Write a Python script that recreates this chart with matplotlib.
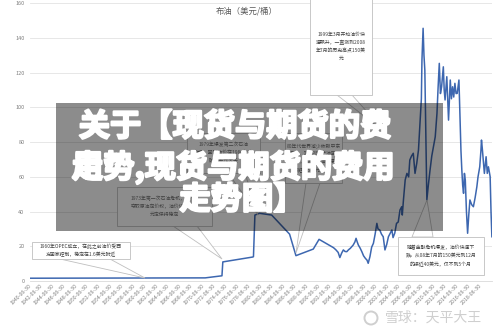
import matplotlib
matplotlib.use('Agg')
import matplotlib.pyplot as plt
import matplotlib.patheffects as pe
from matplotlib.patches import Rectangle, Polygon, Circle

plt.rcParams['font.family'] = ['Noto Sans CJK SC', 'DejaVu Sans']

# Brent price (USD/bbl), x in decimal years
years = [1940.5, 1970.8, 1973.7, 1973.85, 1979.0, 1979.15, 1979.4, 1980.2, 1982.3,
         1985.4, 1986.5, 1989.5, 1990.5,
         1993.0, 1993.4, 1993.8, 1994.1, 1994.4, 1994.7, 1995.0, 1995.3, 1995.6, 1995.9,
         1996.2, 1996.4, 1996.7, 1996.9, 1997.1, 1997.3, 1997.6, 1997.9, 1998.2, 1998.5,
         1998.8, 1999.0, 1999.3, 1999.6, 1999.9, 2000.2, 2000.5, 2000.7, 2001.0, 2001.3,
         2001.6, 2001.9, 2002.2, 2002.5, 2002.8, 2003.1, 2003.3, 2003.6, 2003.9, 2004.2,
         2004.5, 2004.8, 2004.9, 2005.1, 2005.4, 2005.7, 2006.0, 2006.2, 2006.5, 2006.8,
         2007.1, 2007.4, 2007.7, 2008.0, 2008.2, 2008.3, 2008.45, 2008.5, 2008.65, 2008.8,
         2008.95, 2009.05, 2009.15, 2009.4, 2009.7, 2010.0, 2010.3, 2010.6, 2010.9, 2011.1,
         2011.3, 2011.5, 2011.7, 2012.0, 2012.15, 2012.3, 2012.6, 2012.9, 2013.2, 2013.4,
         2013.6, 2013.8, 2014.0, 2014.2, 2014.4, 2014.55, 2014.7, 2014.9, 2015.05, 2015.2,
         2015.35, 2015.5, 2015.65, 2015.8, 2016.0, 2016.2, 2016.4, 2016.6, 2016.9, 2017.2,
         2017.5, 2017.8, 2018.0, 2018.3, 2018.5, 2018.6, 2018.75, 2018.9, 2019.1, 2019.4,
         2019.6, 2019.8, 2020.1, 2020.25, 2020.4]
price = [1.6, 1.8, 3.0, 11.0, 13.8, 14.0, 38.0, 39.0, 38.0,
         27.0, 14.6, 18.4, 24.0,
         19.2, 18.0, 16.5, 13.5, 16.0, 17.9, 17.0, 16.9, 18.0, 18.8,
         20.0, 20.7, 22.5, 24.6, 22.5, 20.7, 19.0, 16.9, 14.5, 13.1,
         12.0, 10.2, 14.0, 19.5, 21.7, 27.0, 33.2, 30.0, 29.4, 27.0,
         25.5, 17.9, 21.0, 25.5, 27.5, 29.4, 25.0, 27.6, 33.2, 34.0,
         40.9, 42.8, 38.0, 46.7, 58.2, 62.0, 60.0, 69.7, 72.0, 73.6,
         62.0, 67.8, 75.5, 92.7, 105.0, 127.3, 140.0, 145.6, 130.0, 121.5,
         90.0, 70.0, 46.7, 55.0, 63.9, 72.0, 77.4, 83.1, 96.6, 111.9,
         125.4, 108.0, 111.9, 123.4, 110.0, 104.3, 117.7, 92.7, 115.8, 105.0,
         111.9, 106.0, 113.9, 108.0, 108.1, 112.0, 115.8, 92.7, 75.0, 63.9,
         55.0, 50.5, 62.0, 58.2, 40.0, 27.5, 38.0, 46.7, 44.0, 42.8,
         48.0, 54.3, 60.0, 65.8, 75.0, 81.2, 76.0, 69.7, 62.0, 71.6,
         62.0, 65.8, 60.1, 40.0, 25.5]

tick_years = list(range(1940, 2019, 2))
tick_labels = [f'{y}-06-30' for y in tick_years]
y_ticks = [0, 20, 40, 60, 80, 100, 120, 140, 160]

chart_title = '布油（美元/桶）'
banner_lines = ['关于【现货与期货的费', '走势,现货与期货的费用', '走势图】']
callouts = [
    # (box x, y, w, h, wedge base x1, x2, base y, tip x, tip y, lines)
    (310, -2, 62, 97, 337, 352, 95, 386, 133,
     ['1999年3月开始油价快', '速飙升，一直涨到2008', '年7月的历史高点150美', '元']),
    (32, 242, 98, 17, 60, 110, 259, 145, 278,
     ['1960年OPEC成立，在此之前油价受西', '方国家控制，稳定在1.6美元附近']),
    (117, 187, 95, 39, 173, 197, 226, 222, 259,
     ['1973年第一次石油危机，OPEC', '夺取原油定价权，油价快速上涨', '元定保持稳定']),
    (187, 133, 73, 40, 228, 245, 173, 258, 215,
     ['1979年爆发第二次石油', '危机，国际油价在1980年突', '破40美元大关']),
    (285, 133, 57, 50, 306, 320, 183, 296, 253,
     ['80年代世界减少依赖中东', '石油，非OPEC产油国', '增产，1986年油价暴', '跌至15美元以下']),
    (398, 237, 86, 38, 412, 433, 237, 427, 200,
     ['随着金融危机爆发，油价快速下', '跌。从08年7月的150美元到12月', '的接近40美元，仅不到5个月']),
]

W, H = 500, 334
fig = plt.figure(figsize=(W / 100, H / 100), dpi=100)

ax = fig.add_axes([30 / W, 1 - 281 / H, 462 / W, 277.7 / H])
ax.plot(years, price, color='#3D67B0', lw=1.1, zorder=3)
ax.set_xlim(1940.49, 2020.42)
ax.set_ylim(0, 160)
ax.set_yticks(y_ticks)
ax.set_xticks([y + 0.5 for y in tick_years])
ax.set_xticklabels(tick_labels, rotation=45, ha='right', va='center',
                   rotation_mode='anchor', fontsize=3.8, color='#808080')
ax.tick_params(axis='x', length=0, pad=3)
ax.tick_params(axis='y', length=0, pad=4, labelsize=4, labelcolor='#808080')
ax.yaxis.grid(True, color='#E3E3E3', lw=0.6)
ax.set_axisbelow(True)
for s in ['top', 'right', 'left']:
    ax.spines[s].set_visible(False)
ax.spines['bottom'].set_color('#D9D9D9')
ax.spines['bottom'].set_linewidth(0.6)

# overlay in pixel coordinates for callouts, banner and watermark
ov = fig.add_axes([0, 0, 1, 1])
ov.set_xlim(0, W)
ov.set_ylim(H, 0)
ov.axis('off')

ov.text(247, 11, chart_title, fontsize=6, color='#595959', ha='center', va='center')

for bx, by, bw, bh, x1, x2, base, tx, ty, lines in callouts:
    ov.add_patch(Polygon([(x1, base), (tx, ty), (x2, base)], closed=True,
                         fc='white', ec='#BFBFBF', lw=0.6))
    ov.add_patch(Rectangle((bx, by), bw, bh, fc='white', ec='#BFBFBF', lw=0.6))
    n = len(lines)
    cy = by + bh / 2
    for i, t in enumerate(lines):
        ov.text(bx + bw / 2, cy + (i - (n - 1) / 2) * 8.2, t, fontsize=3.5,
                color='#404040', ha='center', va='center')

# grey banner with the big white title
ov.add_patch(Rectangle((56, 103), 387, 128, fc='black', alpha=0.45, ec='none'))
heavy = [pe.withStroke(linewidth=1.6, foreground='white')]
big = dict(fontsize=22.5, color='white', weight='bold', va='center', path_effects=heavy)
ov.text(235, 127, banner_lines[0], ha='center', **big)
ov.text(72, 167.5, banner_lines[1], ha='left', **big)
ov.text(87.5, 167.5, '用', ha='center', **big)
ov.text(242, 200, banner_lines[2], ha='center', **big)

# watermark
ov.add_patch(Circle((371, 318), 6.5, fc='none', ec='#CFCFCF', lw=1.4))
ov.text(385, 318, '雪球：天平大王', fontsize=10, color='#CFCFCF', ha='left', va='center')

fig.savefig('out.png', dpi=100)
